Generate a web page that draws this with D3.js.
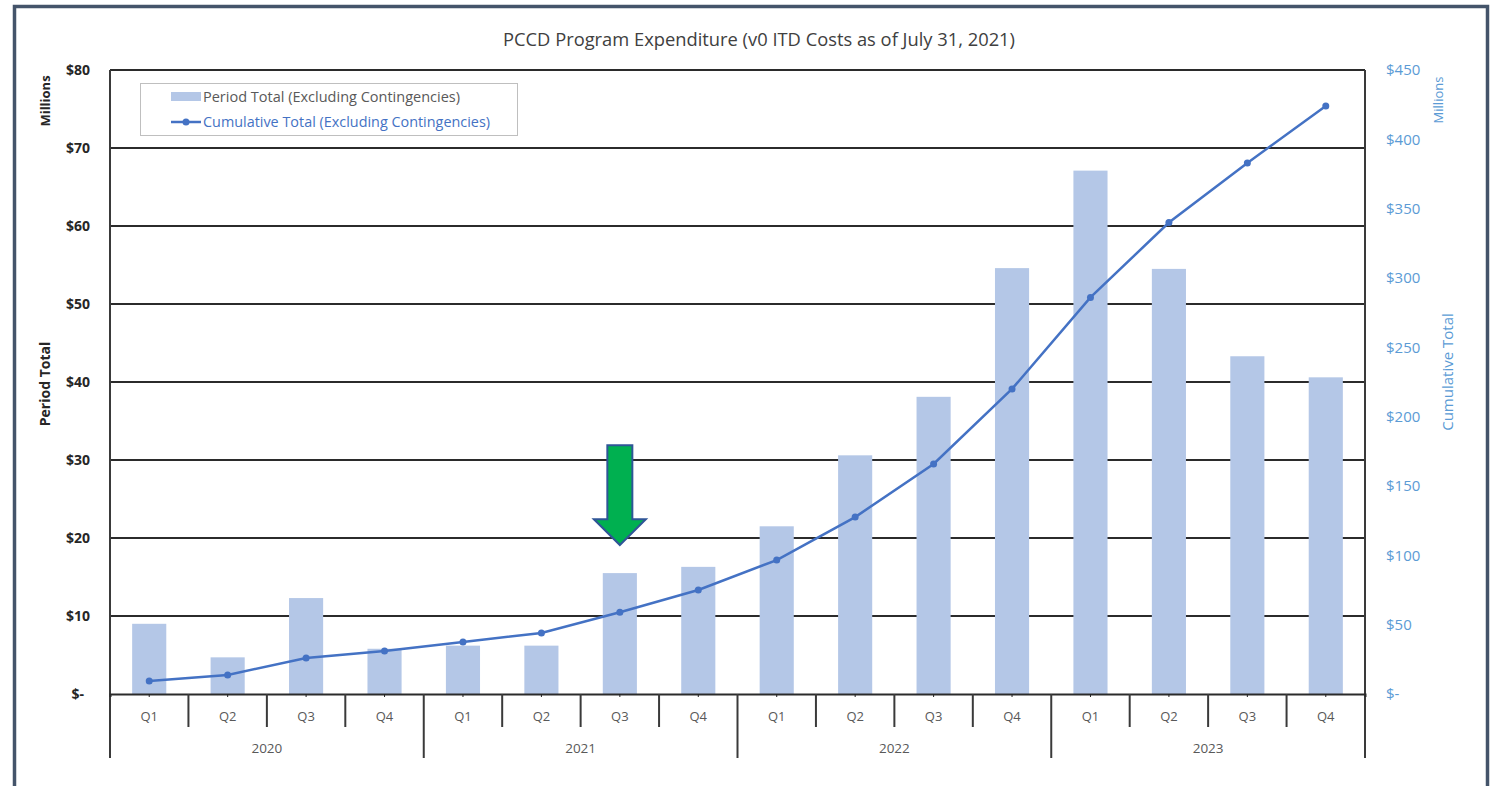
<!DOCTYPE html>
<html>
<head>
<meta charset="utf-8">
<script src="https://cdn.jsdelivr.net/npm/d3@7"></script>
<style>
  body { margin: 0; background: #fff; }
  svg text { font-family: "Open Sans", "Liberation Sans", sans-serif; }
</style>
</head>
<body>
<svg id="chart" width="1498" height="786"></svg>
<script>
// chart data
const years = ["2020", "2021", "2022", "2023"];
const quarters = ["Q1", "Q2", "Q3", "Q4"];
const periodTotal = [9.0, 4.7, 12.3, 5.8, 6.2, 6.2, 15.5, 16.3, 21.5, 30.6, 38.1, 54.6, 67.1, 54.5, 43.3, 40.6];
const cumulativeTotal = [9.4, 13.7, 26, 31, 37.5, 44, 59, 75, 96.6, 127.6, 165.9, 220, 286, 340, 383, 424];
const leftTicks = [0, 10, 20, 30, 40, 50, 60, 70, 80];
const rightTicks = [0, 50, 100, 150, 200, 250, 300, 350, 400, 450];

const title = "PCCD Program Expenditure (v0 ITD Costs as of July 31, 2021)";
const legendLabels = ["Period Total (Excluding Contingencies)", "Cumulative Total (Excluding Contingencies)"];

const barColor = "#b4c7e7";
const lineColor = "#4472c4";
const rightColor = "#5b9bd5";

// build categories
const cats = [];
years.forEach(y => quarters.forEach(q => cats.push({ year: y, q: q, key: y + "-" + q })));

const margin = { top: 70, right: 133, bottom: 92, left: 110 };
const W = 1498, H = 786;

const svg = d3.select("#chart");

// frame
svg.append("rect")
  .attr("x", 14.5).attr("y", 6.5)
  .attr("width", 1473).attr("height", 800)
  .attr("fill", "#fff")
  .attr("stroke", "#44546a")
  .attr("stroke-width", 3.5);

const x = d3.scaleBand()
  .domain(cats.map(d => d.key))
  .range([margin.left, W - margin.right])
  .paddingInner(0.565)
  .paddingOuter(0.2825);

const yL = d3.scaleLinear().domain([0, 80]).range([H - margin.bottom, margin.top]);
const yR = d3.scaleLinear().domain([0, 450]).range([H - margin.bottom, margin.top]);

// title
svg.append("text")
  .attr("x", 759).attr("y", 46)
  .attr("text-anchor", "middle")
  .attr("font-size", 18)
  .attr("fill", "#404040")
  .attr("textLength", 512)
  .attr("lengthAdjust", "spacingAndGlyphs")
  .text(title);

// gridlines
svg.append("g")
  .selectAll("line")
  .data(leftTicks.filter(d => d > 0))
  .join("line")
  .attr("x1", margin.left).attr("x2", W - margin.right)
  .attr("y1", d => yL(d)).attr("y2", d => yL(d))
  .attr("stroke", "#2b2b2b")
  .attr("stroke-width", 2);

// bars
svg.append("g")
  .selectAll("rect")
  .data(cats)
  .join("rect")
  .attr("x", d => x(d.key))
  .attr("width", x.bandwidth())
  .attr("y", (d, i) => yL(periodTotal[i]))
  .attr("height", (d, i) => yL(0) - yL(periodTotal[i]))
  .attr("fill", barColor);

// left axis
const gL = svg.append("g")
  .attr("transform", `translate(${margin.left},0)`)
  .call(d3.axisLeft(yL).tickValues(leftTicks).tickSize(0).tickPadding(20)
    .tickFormat(d => d === 0 ? "$-" : "$" + d));
gL.select(".domain").remove();
gL.selectAll("text").attr("font-size", 14).attr("fill", "#262626").attr("font-weight", "bold");
gL.selectAll(".tick").filter(d => d === 0).select("text").attr("dx", -6);

// right axis
const gR = svg.append("g")
  .attr("transform", `translate(${W - margin.right},0)`)
  .call(d3.axisRight(yR).tickValues(rightTicks).tickSize(0).tickPadding(21)
    .tickFormat(d => d === 0 ? "$-" : "$" + d));
gR.select(".domain").remove();
gR.selectAll("text").attr("font-size", 15).attr("fill", rightColor);

// vertical axis lines
const axisBottomY = H - margin.bottom;
[margin.left, W - margin.right].forEach(xx => {
  svg.append("line")
    .attr("x1", xx).attr("x2", xx)
    .attr("y1", margin.top).attr("y2", axisBottomY + 64)
    .attr("stroke", "#3a3a3a").attr("stroke-width", 2);
});

// category axis (two level)
const gB = svg.append("g")
  .attr("transform", `translate(0,${axisBottomY})`)
  .call(d3.axisBottom(x).tickSize(3).tickFormat(() => ""));
gB.select(".domain").attr("stroke", "#2b2b2b").attr("stroke-width", 2);
gB.selectAll(".tick line").attr("stroke", "#222");

const step = x.step();
const left0 = margin.left;
cats.forEach((d, i) => {
  const cx = x(d.key) + x.bandwidth() / 2;
  svg.append("text")
    .attr("x", cx).attr("y", axisBottomY + 27)
    .attr("text-anchor", "middle")
    .attr("font-size", 13)
    .attr("fill", "#595959")
    .text(d.q);
  if (i > 0) {
    const sx = left0 + i * step;
    const yearStart = i % quarters.length === 0;
    svg.append("line")
      .attr("x1", sx).attr("x2", sx)
      .attr("y1", axisBottomY).attr("y2", axisBottomY + (yearStart ? 64 : 33))
      .attr("stroke", "#3a3a3a").attr("stroke-width", 2);
  }
});
years.forEach((y, i) => {
  const cx = left0 + (i * quarters.length + quarters.length / 2) * step;
  svg.append("text")
    .attr("x", cx).attr("y", axisBottomY + 59)
    .attr("text-anchor", "middle")
    .attr("font-size", 13.5)
    .attr("fill", "#595959")
    .text(y);
});

// cumulative line
const line = d3.line()
  .x((d, i) => x(cats[i].key) + x.bandwidth() / 2)
  .y(d => yR(d));

svg.append("path")
  .datum(cumulativeTotal)
  .attr("d", line)
  .attr("fill", "none")
  .attr("stroke", lineColor)
  .attr("stroke-width", 2.5);

svg.append("g")
  .selectAll("circle")
  .data(cumulativeTotal)
  .join("circle")
  .attr("cx", (d, i) => x(cats[i].key) + x.bandwidth() / 2)
  .attr("cy", d => yR(d))
  .attr("r", 3.5)
  .attr("fill", lineColor);

// axis titles
function vText(xx, yy, txt, col, size, weight) {
  svg.append("text")
    .attr("transform", `translate(${xx},${yy}) rotate(-90)`)
    .attr("text-anchor", "middle")
    .attr("font-size", size)
    .attr("font-weight", weight)
    .attr("fill", col)
    .text(txt);
}
vText(50, 101, "Millions", "#262626", 13, "bold");
vText(50, 384, "Period Total", "#262626", 14, "bold");
vText(1443, 100, "Millions", rightColor, 13, "normal");
vText(1453, 372, "Cumulative Total", rightColor, 15, "normal");

// legend
const lg = svg.append("g");
lg.append("rect")
  .attr("x", 140.5).attr("y", 83.5)
  .attr("width", 377).attr("height", 52)
  .attr("fill", "#fff")
  .attr("stroke", "#bfbfbf");
lg.append("rect")
  .attr("x", 171).attr("y", 92)
  .attr("width", 30).attr("height", 9)
  .attr("fill", barColor);
lg.append("text")
  .attr("x", 203).attr("y", 102)
  .attr("font-size", 14.5)
  .attr("fill", "#595959")
  .attr("textLength", 257)
  .attr("lengthAdjust", "spacingAndGlyphs")
  .text(legendLabels[0]);
lg.append("line")
  .attr("x1", 171).attr("x2", 201)
  .attr("y1", 122).attr("y2", 122)
  .attr("stroke", lineColor).attr("stroke-width", 2.5);
lg.append("circle")
  .attr("cx", 186).attr("cy", 122).attr("r", 3.5)
  .attr("fill", lineColor);
lg.append("text")
  .attr("x", 203).attr("y", 127)
  .attr("font-size", 14.5)
  .attr("fill", lineColor)
  .attr("textLength", 287)
  .attr("lengthAdjust", "spacingAndGlyphs")
  .text(legendLabels[1]);

// green arrow pointing at 2021 Q3
const ax = x("2021-Q3") + x.bandwidth() / 2;
const tipY = yL(19.1), headY = yL(22.4), topY = yL(31.9);
const sw = 12.5, hw = 26;
svg.append("path")
  .attr("d", `M${ax - sw},${topY} L${ax + sw},${topY} L${ax + sw},${headY} L${ax + hw},${headY}
    L${ax},${tipY} L${ax - hw},${headY} L${ax - sw},${headY} Z`)
  .attr("fill", "#00b050")
  .attr("stroke", "#2f5597")
  .attr("stroke-width", 2);
</script>
</body>
</html>
